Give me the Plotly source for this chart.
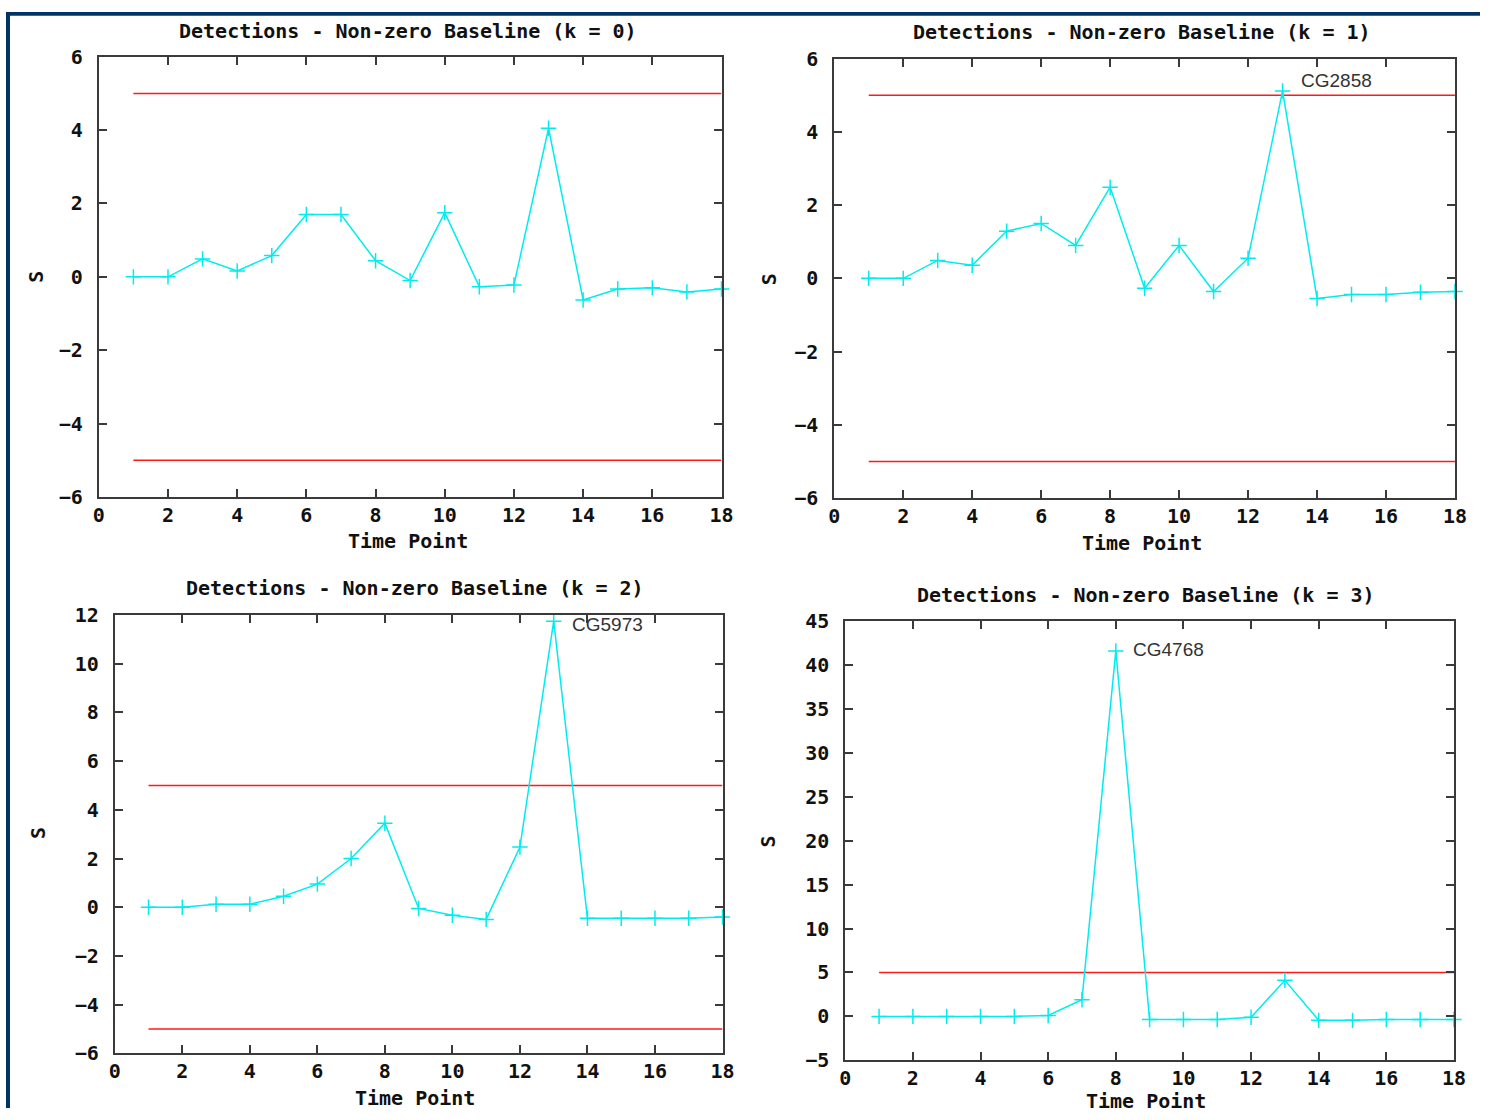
import plotly.graph_objects as go

W, H = 1492, 1120

time_points = list(range(1, 19))
s_k0 = [0, 0, 0.49, 0.16, 0.58, 1.70, 1.70, 0.44, -0.10, 1.75, -0.27, -0.22, 4.05, -0.63, -0.33, -0.30, -0.41, -0.33]
s_k1 = [0, 0, 0.49, 0.36, 1.29, 1.50, 0.90, 2.49, -0.27, 0.90, -0.36, 0.55, 5.12, -0.55, -0.44, -0.44, -0.38, -0.36]
s_k2 = [0, 0, 0.12, 0.12, 0.45, 0.95, 2.00, 3.45, -0.05, -0.33, -0.50, 2.47, 11.75, -0.45, -0.45, -0.45, -0.45, -0.40]
s_k3 = [0, 0, 0, 0, 0, 0.10, 1.90, 41.6, -0.35, -0.35, -0.35, -0.10, 4.10, -0.45, -0.45, -0.35, -0.35, -0.35]
series = [s_k0, s_k1, s_k2, s_k3]
titles = ["Detections - Non-zero Baseline (k = 0)",
          "Detections - Non-zero Baseline (k = 1)",
          "Detections - Non-zero Baseline (k = 2)",
          "Detections - Non-zero Baseline (k = 3)"]
thresholds = [[5, -5], [5, -5], [5, -5], [5]]
y_ranges = [[-6, 6], [-6, 6], [-6, 12], [-5, 45]]
y_dticks = [2, 2, 2, 5]
x_ticks = list(range(0, 20, 2))
peak_labels = [None, ("CG2858", 13, 5.12), ("CG5973", 13, 11.75), ("CG4768", 8, 41.6)]

# target pixel boxes in the picture [left, right, top, bottom]
boxes = [[97, 721, 57, 497], [834, 1456, 59, 498], [113, 722, 615, 1053], [845, 1455, 621, 1060]]
title_pos = [(407, 31), (1142, 32), (414, 588), (1146, 595)]
ylab_pos = [(34, 277), (768, 279), (36, 833), (768, 841)]
xlab_pos = [(407, 541), (1142, 543), (414, 1098), (1146, 1101)]
label_shift = [None, (16, 10), (16, -3), (15, 1)]

# the captured picture places the page slightly scaled/offset; map target pixels to paper
SX, OX, SY, OY = 0.99, 4.0, 0.978, 12.3


def px_x(p):
    return max(0.0, min(1.0, (p - OX) / SX / W))


def px_y(p):
    return max(0.0, min(1.0, 1 - (p - OY) / SY / H))


CYAN = "#00eded"
RED = "#ff1a1a"
AX = "#3a3a3a"
MONO = "DejaVu Sans Mono"
FS = 20

fig = go.Figure()
annotations = []
for i in range(4):
    ax = "" if i == 0 else str(i + 1)
    xa, ya = "x" + ax, "y" + ax
    for t in thresholds[i]:
        fig.add_trace(go.Scatter(x=[time_points[0], time_points[-1]], y=[t, t], mode="lines",
                                 line=dict(color=RED, width=1.5), xaxis=xa, yaxis=ya,
                                 showlegend=False, hoverinfo="skip"))
    fig.add_trace(go.Scatter(x=time_points, y=series[i], mode="lines+markers",
                             line=dict(color=CYAN, width=1.5),
                             marker=dict(symbol="cross-thin-open", size=11,
                                         line=dict(color=CYAN, width=1.5)),
                             xaxis=xa, yaxis=ya, showlegend=False, cliponaxis=False))
    l, r, t_, b = boxes[i]
    common = dict(showline=True, mirror="ticks", linecolor=AX, linewidth=2,
                  ticks="inside", ticklen=8, tickwidth=1.5, tickcolor=AX,
                  showgrid=False, zeroline=False,
                  tickfont=dict(family=MONO, size=FS, color="#111111", weight="bold"))
    fig.update_layout(**{
        "xaxis" + ax: dict(domain=[px_x(l), px_x(r)], range=[0, 18], tickvals=x_ticks,
                           anchor=ya, ticklabelstandoff=-1, **common),
        "yaxis" + ax: dict(domain=[px_y(b), px_y(t_)], range=y_ranges[i], dtick=y_dticks[i],
                           anchor=xa, ticklabelstandoff=10, **common),
    })
    tx, ty = title_pos[i]
    annotations.append(dict(text=titles[i], x=px_x(tx), y=px_y(ty), xref="paper", yref="paper",
                            showarrow=False, xanchor="center", yanchor="middle",
                            font=dict(family=MONO, size=FS, color="#111111", weight="bold")))
    sx, sy = ylab_pos[i]
    annotations.append(dict(text="S", x=px_x(sx), y=px_y(sy), xref="paper", yref="paper",
                            showarrow=False, textangle=-90, xanchor="center", yanchor="middle",
                            font=dict(family=MONO, size=FS, color="#111111", weight="bold")))
    lx, ly = xlab_pos[i]
    annotations.append(dict(text="Time Point", x=px_x(lx), y=px_y(ly), xref="paper", yref="paper",
                            showarrow=False, xanchor="center", yanchor="middle",
                            font=dict(family=MONO, size=FS, color="#111111", weight="bold")))
    if peak_labels[i]:
        name, px, py = peak_labels[i]
        dx, dy = label_shift[i]
        annotations.append(dict(text=name, x=px, y=py, xref=xa, yref=ya, showarrow=False,
                                xanchor="left", yanchor="middle", xshift=dx, yshift=dy,
                                font=dict(family="Liberation Sans", size=19, color="#333333")))

shapes = [
    dict(type="rect", xref="paper", yref="paper", x0=0, x1=px_x(8), y0=0, y1=1,
         fillcolor="#003366", line=dict(width=0), layer="below"),
    dict(type="rect", xref="paper", yref="paper", x0=0, x1=1, y0=px_y(16), y1=1,
         fillcolor="#003366", line=dict(width=0), layer="below"),
]

fig.update_layout(width=W, height=H, margin=dict(l=0, r=0, t=0, b=0),
                  paper_bgcolor="white", plot_bgcolor="white",
                  annotations=annotations, shapes=shapes)

fig.write_html("out.html")
